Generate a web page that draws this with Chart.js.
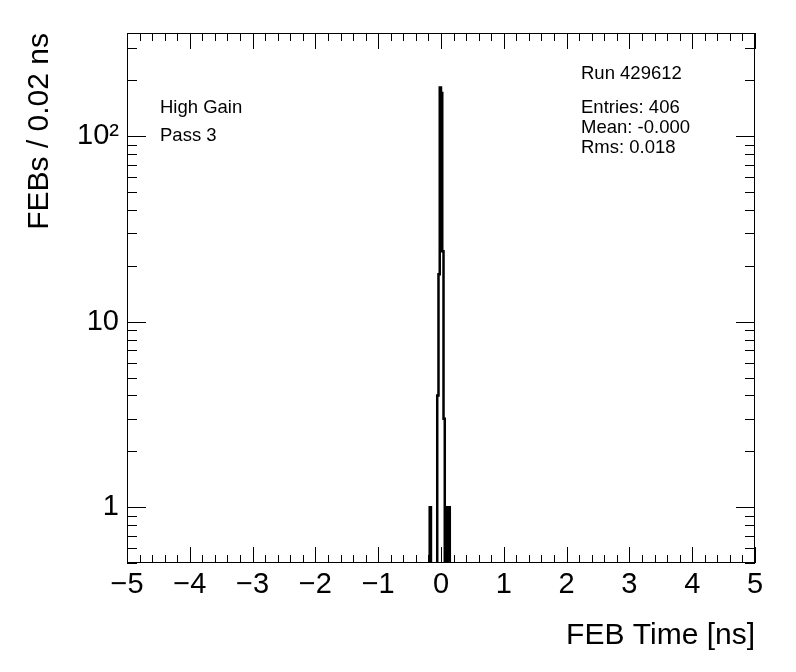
<!DOCTYPE html>
<html>
<head>
<meta charset="utf-8">
<script src="https://cdn.jsdelivr.net/npm/chart.js@4.4.1/dist/chart.umd.min.js"></script>
<style>
  html, body { margin: 0; padding: 0; background: #fff; }
  canvas { display: block; }
</style>
</head>
<body>
<canvas id="myCanvas" width="796" height="672"></canvas>
<script>
// non-empty bins of the FEB time histogram (low edge in ns)
const binLow = [-0.18, -0.06, -0.04, -0.02, 0.00, 0.02, 0.04, 0.08, 0.12];
const binCounts = [1, 4, 18, 183, 171, 24, 3, 1, 1];
const binWidth = 0.02;

const xRange = [-5, 5];
const yRange = [0.5, 360];
const xTickValues = [-5, -4, -3, -2, -1, 0, 1, 2, 3, 4, 5];
const yTickValues = [1, 10, 100];
const yTickLabels = ['1', '10', '10\u00b2'];

const runLabel = 'Run 429612';
const leftNotes = ['High Gain', 'Pass 3'];
const statNotes = ['Entries: 406', 'Mean: -0.000', 'Rms: 0.018'];

const FONT = "'Liberation Sans', Arial, Helvetica, sans-serif";
const FLOOR = 0.05; // empty bins, below the axis -> clipped

// outline of the histogram, like ROOT draws it
function stepPoints() {
    const pts = [{x: xRange[0], y: FLOOR}];
    let prevHigh = null;
    binLow.forEach((lo, i) => {
        const hi = lo + binWidth;
        if (prevHigh === null || Math.abs(prevHigh - lo) > 1e-9) {
            if (prevHigh !== null) pts.push({x: prevHigh, y: FLOOR});
            pts.push({x: lo, y: FLOOR});
        }
        pts.push({x: lo, y: binCounts[i]});
        pts.push({x: hi, y: binCounts[i]});
        prevHigh = hi;
    });
    pts.push({x: prevHigh, y: FLOOR});
    pts.push({x: xRange[1], y: FLOOR});
    return pts;
}

// frame + inward ticks on all four sides
const rootFrame = {
    id: 'rootFrame',
    afterDatasetsDraw(chart) {
        const {ctx, chartArea: a, scales: {x, y}} = chart;
        ctx.save();
        ctx.strokeStyle = '#000';
        ctx.lineWidth = 1;
        ctx.beginPath();
        for (let k = 0; k <= 50; k++) {
            const px = Math.round(x.getPixelForValue(xRange[0] + k * 0.2)) + 0.5;
            const len = k % 5 === 0 ? 16 : 8;
            ctx.moveTo(px, a.bottom); ctx.lineTo(px, a.bottom - len);
            ctx.moveTo(px, a.top); ctx.lineTo(px, a.top + len);
        }
        for (let e = -1; e <= 2; e++) {
            for (let m = 1; m <= 9; m++) {
                const v = m * Math.pow(10, e);
                if (v < yRange[0] || v > yRange[1]) continue;
                const py = Math.round(y.getPixelForValue(v)) + 0.5;
                const len = m === 1 ? 19 : 10;
                ctx.moveTo(a.left, py); ctx.lineTo(a.left + len, py);
                ctx.moveTo(a.right, py); ctx.lineTo(a.right - len, py);
            }
        }
        ctx.stroke();
        ctx.strokeRect(a.left + 0.5, a.top + 0.5, a.right - a.left - 1, a.bottom - a.top - 1);
        ctx.restore();
    },
    afterDraw(chart) {
        const ctx = chart.ctx;
        ctx.save();
        ctx.fillStyle = '#000';
        ctx.font = '18.5px ' + FONT;
        ctx.textBaseline = 'middle';
        ctx.textAlign = 'left';
        ctx.fillText(runLabel, 581, 74);
        statNotes.forEach((t, i) => ctx.fillText(t, 581, 108 + i * 20));
        leftNotes.forEach((t, i) => ctx.fillText(t, 160, 108 + i * 28));
        ctx.restore();
    }
};

document.addEventListener('DOMContentLoaded', () => {
    const ctx = document.getElementById('myCanvas').getContext('2d');
    Chart.defaults.font.family = FONT;
    Chart.defaults.color = '#000';

    const config = {
        type: 'line',
        data: {
            datasets: [{
                data: stepPoints(),
                borderColor: '#000',
                borderWidth: 2.5,
                pointRadius: 0,
                tension: 0,
                fill: false,
                clip: 0
            }]
        },
        options: {
            responsive: false,
            animation: false,
            events: [],
            layout: { padding: { left: 0, right: 41, top: 33, bottom: 0 } },
            plugins: { legend: { display: false }, tooltip: { enabled: false } },
            scales: {
                x: {
                    type: 'linear',
                    min: xRange[0],
                    max: xRange[1],
                    afterFit: (s) => { s.height = 109; },
                    afterBuildTicks: (s) => { s.ticks = xTickValues.map(v => ({value: v})); },
                    grid: { display: false, drawTicks: false },
                    border: { display: false },
                    ticks: {
                        autoSkip: false,
                        maxRotation: 0,
                        padding: 5,
                        color: '#000',
                        font: { size: 29 },
                        callback: (v) => v < 0 ? '\u2212' + Math.abs(v) : String(v)
                    },
                    title: {
                        display: true,
                        text: 'FEB Time [ns]',
                        align: 'end',
                        color: '#000',
                        font: { size: 30 },
                        padding: { top: 0, bottom: 18 }
                    }
                },
                y: {
                    type: 'logarithmic',
                    min: yRange[0],
                    max: yRange[1],
                    afterFit: (s) => { s.width = 127; },
                    afterBuildTicks: (s) => { s.ticks = yTickValues.map(v => ({value: v})); },
                    grid: { display: false, drawTicks: false },
                    border: { display: false },
                    ticks: {
                        autoSkip: false,
                        padding: 8,
                        color: '#000',
                        font: { size: 29 },
                        callback: (v, i) => yTickLabels[i]
                    },
                    title: {
                        display: true,
                        text: 'FEBs / 0.02 ns',
                        align: 'end',
                        color: '#000',
                        font: { size: 30 },
                        padding: { top: 22, bottom: 0 }
                    }
                }
            }
        },
        plugins: [rootFrame]
    };

    new Chart(ctx, config);
});
</script>
</body>
</html>
